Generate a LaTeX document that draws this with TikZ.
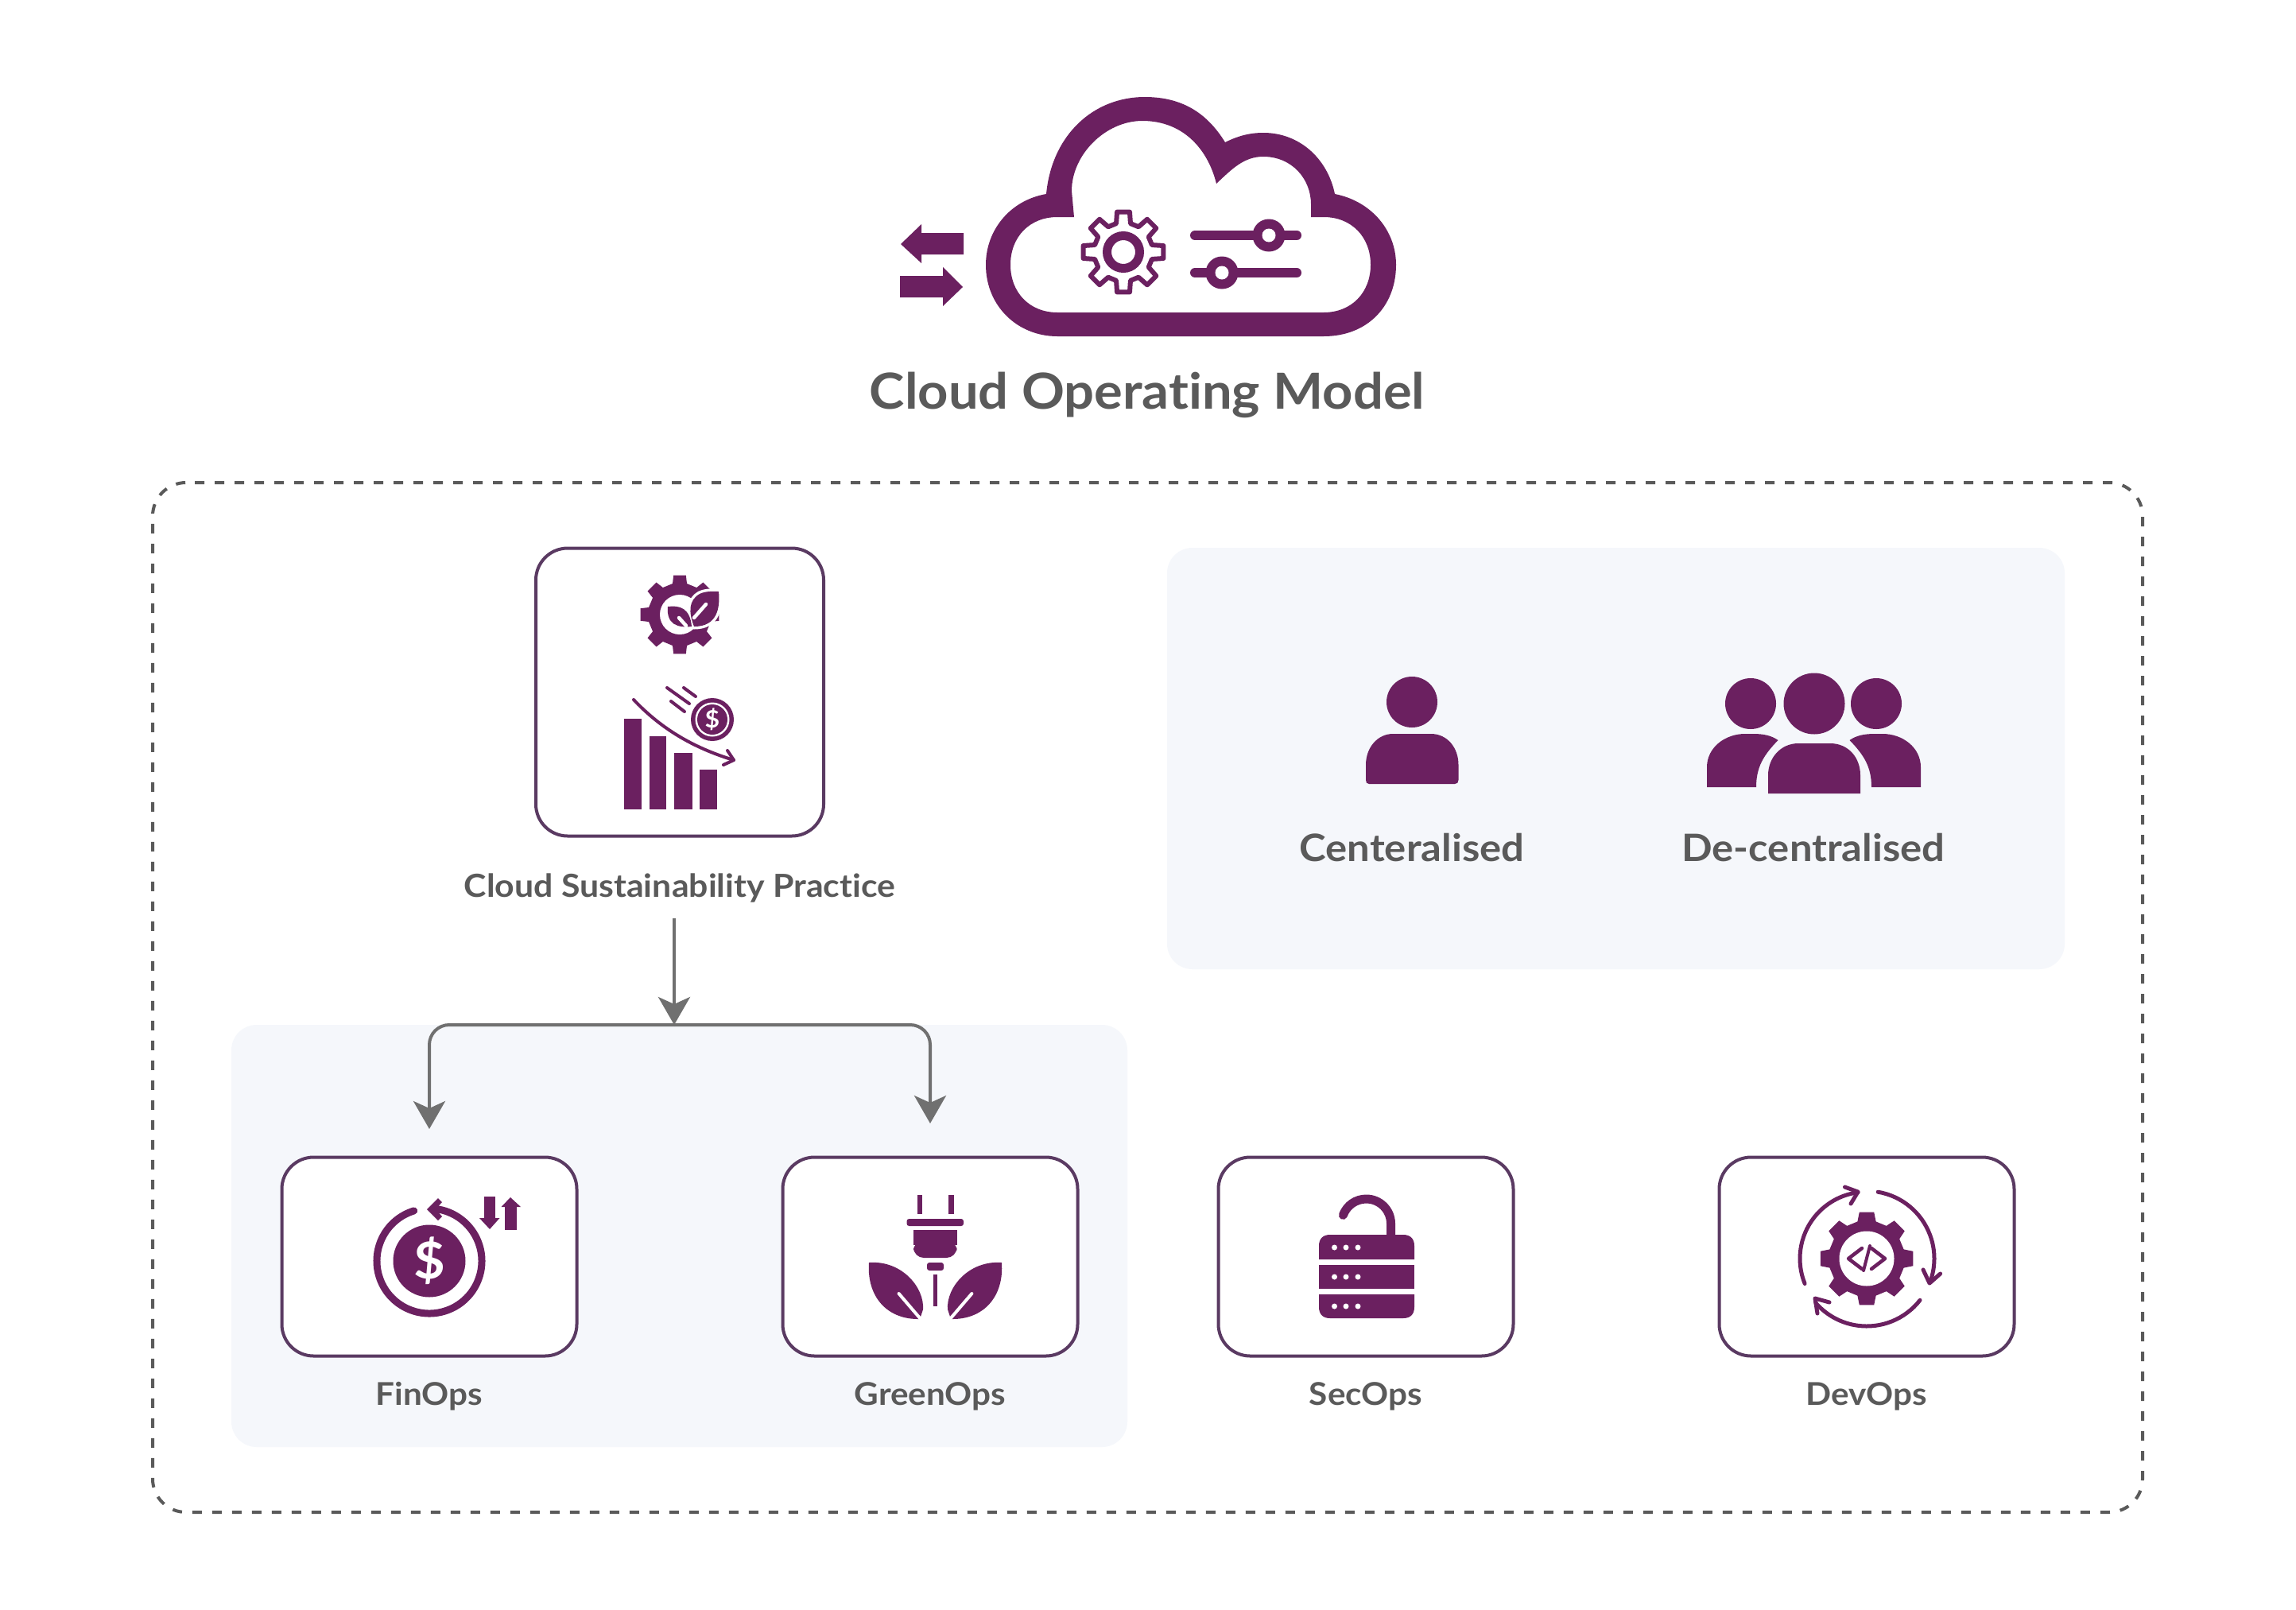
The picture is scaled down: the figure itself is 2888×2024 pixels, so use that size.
\documentclass[tikz,border=0pt]{standalone}
\usepackage{fontspec}
\setmainfont{Lato}[FakeStretch=1.07,Ligatures=NoCommon]
\usetikzlibrary{arrows.meta}
\definecolor{plum}{HTML}{6B2060}
\definecolor{boxline}{HTML}{5A3A62}
\definecolor{paneltint}{HTML}{F5F7FB}
\definecolor{labelgrey}{HTML}{5A5A5A}
\definecolor{flowgrey}{HTML}{707070}
\newcommand{\gearoutline}[5]{(-#4:#2) \foreach \k in {0,...,7} { -- (\k*45-#4:#2) -- (\k*45-#5:#3) -- (\k*45+#5:#3) -- (\k*45+#4:#2) } -- cycle}
\tikzset{
  opsbox/.style={draw=boxline,line width=4pt,rounded corners=40pt,fill=white,minimum width=371pt,minimum height=250pt,inner sep=0pt},
  panel/.style={fill=paneltint,rounded corners=32pt},
  iconfill/.style={fill=plum,draw=none},
  iconline/.style={draw=plum,line cap=round,line join=round},
  whiteline/.style={draw=white,line cap=round,line join=round},
  flow/.style={draw=flowgrey,line width=4pt,-{Stealth[length=35pt,width=40pt,inset=9pt]}},
  lab/.style={text=labelgrey,font=\bfseries\fontsize{39.5}{39.5}\selectfont,anchor=base,inner sep=0pt},
  biglab/.style={lab,font=\bfseries\fontsize{47.5}{47.5}\selectfont},
  titlelab/.style={lab,font=\bfseries\fontsize{62.5}{62.5}\selectfont},
  dollar/.style={text=white,anchor=center,inner sep=0pt}
}
\begin{document}
\begin{tikzpicture}[x=1pt,y=1pt,yscale=-1]
\useasboundingbox (0,0) rectangle (2888,2024);
\fill[white] (0,0) rectangle (2888,2024);
% frame and panels
\draw[draw=labelgrey,line width=4pt,dash pattern=on 12pt off 13pt,rounded corners=42pt] (245,607) -- (2695,607) -- (2695,1902) -- (192,1902) -- (192,607) -- (238,607);
\fill[panel] (1468,689) rectangle (2597,1219);
\fill[panel] (291,1289) rectangle (1418,1820);

% cloud
\fill[iconfill,even odd rule]
 (1330,423) -- (1665,423) .. controls (1720,423) and (1756,385) .. (1756,333) .. controls (1756,290) and (1725,253) .. (1679,244)
 .. controls (1670,200) and (1635,167) .. (1589,167) .. controls (1570,167) and (1555,172) .. (1541,179)
 .. controls (1520,145) and (1490,122) .. (1440,122) .. controls (1375,122) and (1323,170) .. (1316,244)
 .. controls (1270,252) and (1240,290) .. (1240,333) .. controls (1240,385) and (1280,423) .. (1330,423) -- cycle
 (1330,393) -- (1665,393) .. controls (1700,393) and (1724,368) .. (1724,333) .. controls (1724,298) and (1700,273) .. (1665,273) -- (1649,273) -- (1649,257)
 .. controls (1649,225) and (1625,197) .. (1589,197) .. controls (1565,197) and (1550,212) .. (1530,231)
 .. controls (1520,190) and (1490,152) .. (1437,152) .. controls (1390,152) and (1348,195) .. (1348,240) -- (1351,273) -- (1330,273)
 .. controls (1295,273) and (1271,298) .. (1271,333) .. controls (1271,368) and (1295,393) .. (1330,393) -- cycle;
% exchange arrows
\fill[iconfill] (1212,293) -- (1159,293) -- (1159,282) -- (1133,307) -- (1159,331) -- (1159,320) -- (1212,320) -- cycle;
\fill[iconfill] (1132,347) -- (1186,347) -- (1186,336) -- (1211,361) -- (1186,385) -- (1186,374) -- (1132,374) -- cycle;
% cloud gear
\begin{scope}[shift={(1413,317)}]
 \draw[iconline,line width=6pt] \gearoutline{8}{37}{51}{14}{9};
 \draw[draw=plum,line width=11pt] (0,0) circle (20.5);
\end{scope}
% sliders
\draw[iconline,line width=12pt] (1503,296) -- (1631,296);
\draw[iconline,line width=12pt] (1503,343) -- (1631,343);
\fill[iconfill] (1596,296) circle (20.5);
\fill[white] (1596,296) circle (8.5);
\fill[iconfill] (1537,343) circle (20.5);
\fill[white] (1537,343) circle (8.5);
\node[titlelab] (title) at (1443,514) {Cloud Operating Model};

% sustainability box
\node[opsbox,minimum width=362pt,minimum height=362pt] (sustain) at (855,870.5) {};
\begin{scope}[shift={(855,773)}]
 \fill[iconfill] \gearoutline{8}{40}{50}{13}{9};
 \fill[white] (0,0) circle (25);
\end{scope}
\path[draw=white,line width=7pt,line join=round,fill=white] (873,788) .. controls (866,770) and (866,755) .. (880,747) .. controls (888,743) and (898,744) .. (904,744) .. controls (906,765) and (902,788) .. (873,788) -- cycle;
\fill[iconfill] (873,788) .. controls (866,770) and (866,755) .. (880,747) .. controls (888,743) and (898,744) .. (904,744) .. controls (906,765) and (902,788) .. (873,788) -- cycle;
\fill[iconfill] (840,763) .. controls (855,761) and (868,765) .. (870,788) .. controls (852,790) and (838,785) .. (840,763) -- cycle;
\draw[whiteline,line width=4.5pt] (888,760) -- (873,777);
\draw[whiteline,line width=4.5pt] (854,777) -- (863,787);
% bars
\fill[iconfill] (785,904) rectangle (807,1018);
\fill[iconfill] (817,926) rectangle (838,1018);
\fill[iconfill] (848,947) rectangle (871,1018);
\fill[iconfill] (880,968) rectangle (902,1018);
\draw[iconline,line width=4pt] (797,880) .. controls (830,915) and (870,940) .. (923,956);
\draw[iconline,line width=4pt] (915,944) -- (923,956) -- (910,962);
\draw[iconline,line width=4pt] (839,865) -- (867,885);
\draw[iconline,line width=4pt] (860,865) -- (875,876);
\draw[iconline,line width=4pt] (844,882) -- (861,895);
\fill[iconfill] (896,905) circle (27);
\fill[white] (896,905) circle (21.5);
\fill[iconfill] (896,905) circle (19);
\node[dollar,font=\bfseries\fontsize{30}{30}\selectfont] (coinmark) at (896,905) {\$};
\node[lab,font=\bfseries\fontsize{40}{40}\selectfont] (sustainlabel) at (855,1128) {Cloud Sustainability Practice};

% people
\fill[iconfill] (1776,883) circle (32);
\fill[iconfill] (1722,986) .. controls (1719,986) and (1718,984) .. (1718,981) -- (1718,962) .. controls (1718,940) and (1733,923) .. (1752,923) -- (1800,923) .. controls (1820,923) and (1834.5,940) .. (1834.5,962) -- (1834.5,981) .. controls (1834.5,984) and (1833,986) .. (1830,986) -- cycle;
\node[biglab] (central) at (1776,1083) {Centeralised};
\fill[iconfill] (2202,885) circle (32);
\fill[iconfill] (2282,885) circle (38.5);
\fill[iconfill] (2360,885) circle (32);
\fill[iconfill] (2147,990) -- (2147,965) .. controls (2147,940) and (2170,923) .. (2195,923) -- (2205,923) .. controls (2218,923) and (2228,925) .. (2236.5,931) .. controls (2218,950) and (2209,965) .. (2209,990) -- cycle;
\fill[iconfill] (2416,990) -- (2416,965) .. controls (2416,940) and (2393,923) .. (2368,923) -- (2358,923) .. controls (2345,923) and (2335,925) .. (2326.5,931) .. controls (2345,950) and (2354,965) .. (2354,990) -- cycle;
\fill[iconfill] (2224,998) -- (2224,975) .. controls (2224,953) and (2240,935) .. (2262,935) -- (2302,935) .. controls (2325,935) and (2340,953) .. (2340,975) -- (2340,998) -- cycle;
\node[biglab] (decentral) at (2281,1083) {De-centralised};

% ops boxes
\node[opsbox] (finbox) at (540,1580.5) {};
\node[opsbox] (greenbox) at (1170,1580.5) {};
\node[opsbox] (secbox) at (1718,1580.5) {};
\node[opsbox] (devbox) at (2348,1580.5) {};
\node[lab] (finlabel) at (540,1767) {FinOps};
\node[lab] (greenlabel) at (1170,1767) {GreenOps};
\node[lab] (seclabel) at (1718,1767) {SecOps};
\node[lab] (devlabel) at (2348,1767) {DevOps};

% connectors
\coordinate (sustainout) at (848,1155);
\coordinate (branch) at (848,1289);
\coordinate (finin) at (540,1420);
\coordinate (greenin) at (1170,1413);
\draw[flow,rounded corners=25pt] (branch) -| (finin);
\draw[flow,rounded corners=25pt] (branch) -| (greenin);
\draw[flow] (sustainout) -- (branch);

% FinOps icon
\fill[iconfill] (540,1586) circle (45.5);
\node[dollar,font=\bfseries\fontsize{64}{64}\selectfont] (finmark) at (540,1586) {\$};
\draw[iconline,line width=9pt] (540,1586) ++(253:66) arc[start angle=253,end angle=-80,radius=66];
\fill[iconfill] (551,1507) -- (537,1521) -- (551,1535) -- (556,1530) -- (548,1521) -- (556,1512) -- cycle;
\fill[iconfill] (609,1505) rectangle (623,1532);
\fill[iconfill] (603,1532) -- (628.5,1532) -- (616,1546) -- cycle;
\fill[iconfill] (635,1518) rectangle (650,1547);
\fill[iconfill] (630.5,1518) -- (655,1518) -- (642,1506) -- cycle;

% GreenOps icon
\fill[iconfill] (1154,1503) rectangle (1160,1527);
\fill[iconfill] (1193,1503) rectangle (1200,1527);
\fill[iconfill,rounded corners=3pt] (1140.5,1533) rectangle (1212,1542);
\fill[iconfill,rounded corners=13pt] (1149,1560) -- (1149,1582) -- (1203.5,1582) -- (1203.5,1560) -- cycle;
\fill[iconfill] (1149,1547) rectangle (1203.5,1566);
\fill[iconfill,rounded corners=3pt] (1166,1588) -- (1166,1598) -- (1187,1598) -- (1187,1588) -- cycle;
\fill[iconfill] (1174,1603) rectangle (1179,1643);
\fill[iconfill] (1093,1588) .. controls (1135,1585) and (1163,1620) .. (1161,1647) -- (1157,1659) .. controls (1115,1660) and (1090,1630) .. (1093,1588) -- cycle;
\fill[iconfill] (1260,1588) .. controls (1218,1585) and (1190,1620) .. (1192,1647) -- (1196,1659) .. controls (1238,1660) and (1263,1630) .. (1260,1588) -- cycle;
\draw[whiteline,line width=4pt] (1130.6,1627) -- (1158,1659);
\draw[whiteline,line width=4pt] (1222.4,1627) -- (1195,1659);

% SecOps icon
\fill[iconfill] (1659,1584) -- (1659,1567) .. controls (1659,1558) and (1664,1553) .. (1673,1553) -- (1765,1553) .. controls (1774,1553) and (1779,1558) .. (1779,1567) -- (1779,1584) -- cycle;
\fill[iconfill] (1659,1591) rectangle (1779,1621);
\fill[iconfill] (1659,1628) -- (1659,1644) .. controls (1659,1653) and (1664,1658) .. (1673,1658) -- (1765,1658) .. controls (1774,1658) and (1779,1653) .. (1779,1644) -- (1779,1628) -- cycle;
\foreach \dy in {1569,1606,1643}{\foreach \dx in {1678.5,1693,1708}{\fill[white] (\dx,\dy) circle (3.5);}}
\draw[iconline,line width=11pt] (1749.5,1555) -- (1749.5,1539) arc[start angle=0,end angle=-160,radius=31];

% DevOps icon
\begin{scope}[shift={(2348,1583)}]
 \fill[iconfill] \gearoutline{8}{48}{59}{14}{9};
 \fill[white] (0,0) circle (34.5);
 \draw[iconline,line width=4.5pt] (-6,-13) -- (-23,0) -- (-6,13);
 \draw[iconline,line width=4.5pt] (6,-13) -- (23,0) -- (6,13);
 \draw[iconline,line width=4pt] (4,-16) -- (-4,15);
 \draw[iconline,line width=5pt] (158:84) arc[start angle=158,end angle=262.5,radius=84];
 \draw[iconline,line width=5pt] (-80.4:85) arc[start angle=-80.4,end angle=20.8,radius=85];
 \draw[iconline,line width=5pt] (38:85) arc[start angle=38,end angle=139,radius=85];
 \draw[iconline,line width=5pt] (-27.5,-90) -- (-11,-84) -- (-20,-69);
 \draw[iconline,line width=5pt] (71,14) -- (79,31) -- (92.6,19);
 \draw[iconline,line width=5pt] (-47,55) -- (-65,50) -- (-62,69);
\end{scope}
\end{tikzpicture}
\end{document}
